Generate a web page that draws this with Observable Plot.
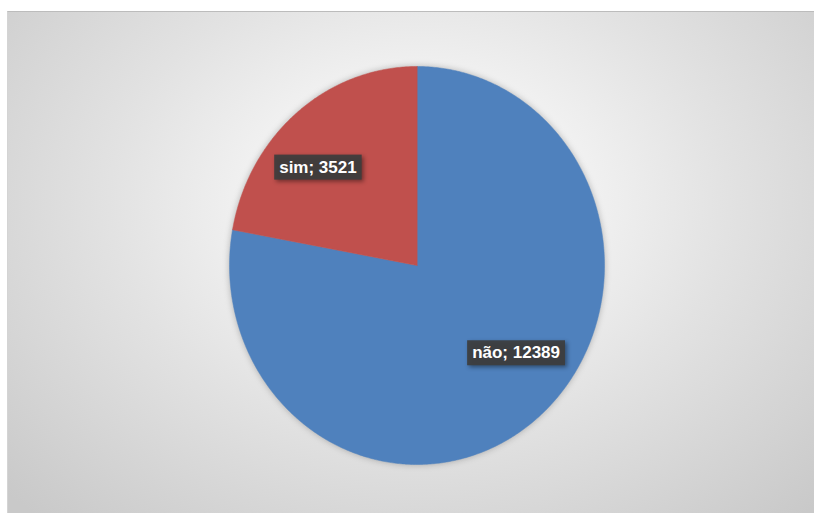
<!DOCTYPE html>
<html><head><meta charset="utf-8">
<script src="https://cdn.jsdelivr.net/npm/d3@7"></script>
<script src="https://cdn.jsdelivr.net/npm/@observablehq/plot@0.6"></script>
<style>
html,body{margin:0;padding:0;background:#fff;}
#wrap{position:relative;width:814px;height:513px;overflow:hidden;}
#bg{position:absolute;left:7px;top:11px;width:807px;height:502px;
 background:radial-gradient(ellipse 70% 85% at 51% 38%, #ffffff 0%, #f7f7f7 20%, #e2e2e2 55%, #c9c9c9 100%);
 border-top:1px solid #bcbcbc;border-left:1px solid #d4d4d4;box-sizing:border-box;}
#chart{position:absolute;left:0;top:0;}
</style></head>
<body><div id="wrap"><div id="bg"></div><div id="chart"></div></div>
<script>
const categories = ["não", "sim"];
const values = [12389, 3521];
const colors = ["#4F81BD", "#C0504D"];

const data = categories.map((c, i) => ({category: c, value: values[i]}));
const arcs = d3.pie().sort(null).value(d => d.value)(data);

// polygon outline of each slice (geometry derived from the pie angles)
const pts = [];
arcs.forEach(a => {
  const n = Math.max(2, Math.ceil((a.endAngle - a.startAngle) / (Math.PI / 360)));
  pts.push({category: a.data.category, x: 0, y: 0});
  for (let k = 0; k <= n; k++) {
    const t = a.startAngle + (a.endAngle - a.startAngle) * k / n;
    pts.push({category: a.data.category, x: Math.sin(t), y: Math.cos(t)});
  }
});
const lr = 0.65;
const labels = arcs.map(a => {
  const m = (a.startAngle + a.endAngle) / 2;
  return {category: a.data.category, label: `${a.data.category}; ${a.data.value}`, x: lr * Math.sin(m), y: lr * Math.cos(m)};
});

const textStyle = {x: "x", y: "y", text: "label", fill: "white", fontWeight: "bold",
  fontSize: 17, fontFamily: "'Liberation Sans', Arial, sans-serif", textAnchor: "middle", lineAnchor: "middle"};

const plot = Plot.plot({
  width: 814, height: 513,
  margin: 0,
  style: {background: "transparent", overflow: "visible"},
  x: {domain: [-1, 1], range: [229, 604], axis: null},
  y: {domain: [-1, 1], range: [464, 66], axis: null},
  color: {domain: categories, range: colors},
  marks: [
    Plot.line(pts, {x: "x", y: "y", z: "category", fill: "category", stroke: "category", strokeWidth: 0.5, curve: "linear-closed"}),
    Plot.text(labels.filter(d => d.category === "não"), {...textStyle, dx: 21, dy: -12}),
    Plot.text(labels.filter(d => d.category === "sim"), {...textStyle, dx: -21, dy: 1})
  ]
});
document.getElementById("chart").appendChild(plot);

// pie shadow
plot.querySelectorAll('g[aria-label="line"]').forEach(g => {
  g.style.filter = "drop-shadow(0px 0px 3px rgba(0,0,0,0.25))";
});
// label boxes
plot.querySelectorAll('g[aria-label="text"] text').forEach(t => {
  const b = t.getBBox();
  const r = document.createElementNS("http://www.w3.org/2000/svg", "rect");
  r.setAttribute("x", b.x - 5);
  r.setAttribute("y", b.y - 3);
  r.setAttribute("width", b.width + 10);
  r.setAttribute("height", b.height + 6);
  r.setAttribute("fill", "#3d3d3d");
  r.setAttribute("fill-opacity", "0.92");
  if (t.getAttribute("transform")) r.setAttribute("transform", t.getAttribute("transform"));
  r.style.filter = "drop-shadow(2px 2px 2px rgba(0,0,0,0.45))";
  t.parentNode.insertBefore(r, t);
});
</script>
</body></html>
